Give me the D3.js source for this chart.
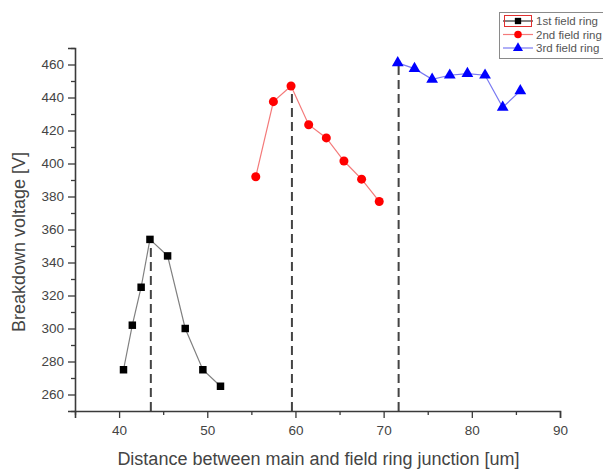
<!DOCTYPE html>
<html>
<head>
<meta charset="utf-8">
<script src="https://cdn.jsdelivr.net/npm/d3@7/dist/d3.min.js"></script>
<style>
  html, body { margin: 0; padding: 0; background: #fff; }
  svg { display: block; }
  text { font-family: "Liberation Sans", Arial, sans-serif; }
</style>
</head>
<body>
<svg id="chart" width="603" height="472"></svg>
<script>
// ---- Data ----
const ring1X = [40.5, 41.5, 42.5, 43.5, 45.5, 47.5, 49.5, 51.5];
const ring1Y = [275, 302, 325, 354, 344, 300, 275, 265];
const ring2X = [55.5, 57.5, 59.5, 61.5, 63.5, 65.5, 67.5, 69.5];
const ring2Y = [392, 437.5, 447, 423.5, 415.5, 401.5, 390.5, 377];
const ring3X = [71.6, 73.5, 75.5, 77.5, 79.5, 81.5, 83.5, 85.5];
const ring3Y = [461, 457.5, 451, 453.5, 454.5, 453.5, 434, 444];
const peakX = [43.6, 59.6, 71.7];
const peakY = [354, 447, 461];
const seriesNames = ["1st field ring", "2nd field ring", "3rd field ring"];
const xTicks = [40, 50, 60, 70, 80, 90];
const yTicks = [260, 280, 300, 320, 340, 360, 380, 400, 420, 440, 460];
const xLabel = "Distance between main and field ring junction [um]";
const yLabel = "Breakdown voltage [V]";

// ---- Layout ----
const svg = d3.select("#chart");
const pLeft = 75, pRight = 560, pTop = 48, pBottom = 411;
const x = d3.scaleLinear().domain([35, 90]).range([pLeft, pRight]);
const y = d3.scaleLinear().domain([250, 470]).range([pBottom, pTop]);

const axisColor = "#3a3a3a";
const textColor = "#444";

// dashed guide lines
svg.append("g").selectAll("line").data(peakX).join("line")
  .attr("x1", d => x(d)).attr("x2", d => x(d))
  .attr("y1", y(250)).attr("y2", (d, i) => y(peakY[i]))
  .attr("stroke", "#444").attr("stroke-width", 2)
  .attr("stroke-dasharray", "9,5");

// axes
const xMinor = d3.range(35, 90.01, 5).filter(v => v % 10 !== 0);
const yMinor = d3.range(250, 470.01, 10).filter(v => v % 20 !== 0);

const gx = svg.append("g").attr("transform", `translate(0,${pBottom})`)
  .call(d3.axisBottom(x).tickValues(xTicks).tickSize(7).tickPadding(7).tickFormat(d3.format("d")));
const gxm = svg.append("g").attr("transform", `translate(0,${pBottom})`)
  .call(d3.axisBottom(x).tickValues(xMinor).tickSize(4).tickFormat(""));
const gy = svg.append("g").attr("transform", `translate(${pLeft},0)`)
  .call(d3.axisLeft(y).tickValues(yTicks).tickSize(7).tickPadding(4).tickFormat(d3.format("d")));
const gym = svg.append("g").attr("transform", `translate(${pLeft},0)`)
  .call(d3.axisLeft(y).tickValues(yMinor).tickSize(4).tickFormat(""));

[gx, gxm, gy, gym].forEach(g => {
  g.select(".domain").attr("stroke", axisColor).attr("stroke-width", 1.6);
  g.selectAll(".tick line").attr("stroke", axisColor).attr("stroke-width", 1.3);
  g.selectAll(".tick text").attr("fill", textColor)
    .style("font-size", "13.5px").style("font-family", "'Liberation Sans', Arial, sans-serif");
});
gxm.select(".domain").remove();
gym.select(".domain").remove();

// axis titles
svg.append("text").attr("x", (pLeft + pRight) / 2 + 1).attr("y", 465)
  .attr("text-anchor", "middle").attr("fill", textColor)
  .style("font-size", "18px").text(xLabel);
svg.append("text").attr("transform", "translate(25,242) rotate(-90)")
  .attr("text-anchor", "middle").attr("fill", textColor)
  .style("font-size", "18px").text(yLabel);

// series
const line = d3.line().x(d => x(d[0])).y(d => y(d[1]));
const s1 = ring1X.map((v, i) => [v, ring1Y[i]]);
const s2 = ring2X.map((v, i) => [v, ring2Y[i]]);
const s3 = ring3X.map((v, i) => [v, ring3Y[i]]);

svg.append("path").attr("d", line(s1)).attr("fill", "none").attr("stroke", "#808080").attr("stroke-width", 1.2);
svg.append("path").attr("d", line(s2)).attr("fill", "none").attr("stroke", "#f47a7a").attr("stroke-width", 1.2);
svg.append("path").attr("d", line(s3)).attr("fill", "none").attr("stroke", "#7a7af2").attr("stroke-width", 1.2);

const sq = d3.symbol().type(d3.symbolSquare).size(56);
const ci = d3.symbol().type(d3.symbolCircle).size(64);
const tr = d3.symbol().type(d3.symbolTriangle).size(60);

svg.append("g").selectAll("path").data(s1).join("path")
  .attr("d", sq).attr("transform", d => `translate(${x(d[0])},${y(d[1])})`).attr("fill", "#000");
svg.append("g").selectAll("path").data(s2).join("path")
  .attr("d", ci).attr("transform", d => `translate(${x(d[0])},${y(d[1])})`).attr("fill", "#ff0000");
svg.append("g").selectAll("path").data(s3).join("path")
  .attr("d", tr).attr("transform", d => `translate(${x(d[0])},${y(d[1])})`).attr("fill", "#0000ff");

// legend
const lg = svg.append("g");
lg.append("rect").attr("x", 499.5).attr("y", 12.5).attr("width", 120).attr("height", 46)
  .attr("fill", "#fff").attr("stroke", "#8a8a8a").attr("stroke-width", 1);
const legColors = ["#000", "#ff0000", "#0000ff"];
const legLine = ["#808080", "#f47a7a", "#7a7af2"];
const legSym = [d3.symbol().type(d3.symbolSquare).size(40), d3.symbol().type(d3.symbolCircle).size(44), d3.symbol().type(d3.symbolTriangle).size(44)];
seriesNames.forEach((name, i) => {
  const cy = 21 + i * 13.5;
  lg.append("line").attr("x1", 503).attr("x2", 533).attr("y1", cy).attr("y2", cy)
    .attr("stroke", i === 0 ? "#333" : legLine[i]).attr("stroke-width", 1.2);
  lg.append("path").attr("d", legSym[i]).attr("transform", `translate(518,${cy})`).attr("fill", legColors[i]);
  lg.append("text").attr("x", 536).attr("y", cy + 4).attr("fill", "#555")
    .style("font-size", "11.5px").text(name);
});
lg.append("rect").attr("x", 504.5).attr("y", 15.5).attr("width", 27).attr("height", 11)
  .attr("fill", "none").attr("stroke", "#e03030").attr("stroke-width", 1);
</script>
</body>
</html>
